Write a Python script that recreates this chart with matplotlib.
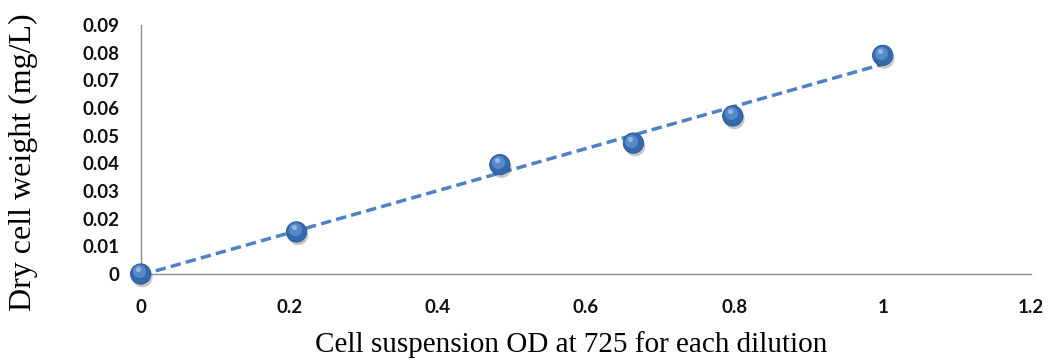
import numpy as np
import matplotlib
matplotlib.use("Agg")
import matplotlib.pyplot as plt
import matplotlib.patheffects as pe
import matplotlib.transforms as mtransforms

# readings (OD at 725 nm, dry cell weight in mg/L)
od = [0.0, 0.21, 0.484, 0.664, 0.798, 1.0]
dcw = [0.0, 0.0152, 0.0395, 0.0473, 0.0571, 0.079]

x_ticks = [0, 0.2, 0.4, 0.6, 0.8, 1, 1.2]
x_tick_labels = ["0", "0.2", "0.4", "0.6", "0.8", "1", "1.2"]
y_ticks = [0, 0.01, 0.02, 0.03, 0.04, 0.05, 0.06, 0.07, 0.08, 0.09]
y_tick_labels = ["0", "0.01", "0.02", "0.03", "0.04", "0.05", "0.06", "0.07", "0.08", "0.09"]


def main():
    fig = plt.figure(figsize=(10.5, 3.61), dpi=100)
    ax = fig.add_axes([0.134, 0.241, 0.848, 0.690])

    # linear trendline like Excel
    slope, intercept = np.polyfit(od, dcw, 1)
    xs = np.array([min(od), max(od)])
    ax.plot(xs, slope * xs + intercept, color="#4f82c4", lw=2.5,
            dashes=(3.0, 1.5), dash_capstyle="butt", zorder=2)

    # sphere-looking markers: shadow + body, then a soft highlight up-left
    ax.scatter(od, dcw, s=215, color="#3569ad", edgecolor="#2a5794",
               linewidth=0.6, zorder=3, clip_on=False,
               path_effects=[pe.SimplePatchShadow(offset=(1.2, -2.2), shadow_rgbFace="#444444", alpha=0.3),
                             pe.Normal()])
    hl = ax.scatter(od, dcw, s=90, color="#6f9edb", linewidth=0, alpha=0.6,
                    zorder=4, clip_on=False)
    hl.set_offset_transform(ax.transData + mtransforms.ScaledTranslation(-2 / 100, 2.5 / 100, fig.dpi_scale_trans))
    hl2 = ax.scatter(od, dcw, s=14, color="#bcd4f2", linewidth=0, alpha=0.6,
                     zorder=5, clip_on=False)
    hl2.set_offset_transform(ax.transData + mtransforms.ScaledTranslation(-3 / 100, 4.5 / 100, fig.dpi_scale_trans))

    ax.set_xlim(0, 1.2)
    ax.set_ylim(0, 0.09)
    ax.set_xticks(x_ticks)
    ax.set_xticklabels(x_tick_labels)
    ax.set_yticks(y_ticks)
    ax.set_yticklabels(y_tick_labels)
    ax.tick_params(length=0)
    ax.tick_params(axis="x", pad=18)
    ax.tick_params(axis="y", pad=15)
    for lab in ax.get_xticklabels() + ax.get_yticklabels():
        lab.set_fontfamily("Lato")
        lab.set_fontweight("bold")
        lab.set_fontsize(13.5)
        lab.set_color("#111111")

    for side in ["top", "right"]:
        ax.spines[side].set_visible(False)
    for side in ["left", "bottom"]:
        ax.spines[side].set_color("#8c8c8c")
        ax.spines[side].set_linewidth(1.0)

    fig.text(0.544, 0.045, "Cell suspension OD at 725 for each dilution",
             family="Liberation Serif", fontsize=21, ha="center", va="center")
    fig.text(0.022, 0.55, "Dry cell weight (mg/L)", family="Liberation Serif",
             fontsize=23, rotation=90, ha="center", va="center")

    fig.savefig("out.png", dpi=100)


if __name__ == "__main__":
    main()
